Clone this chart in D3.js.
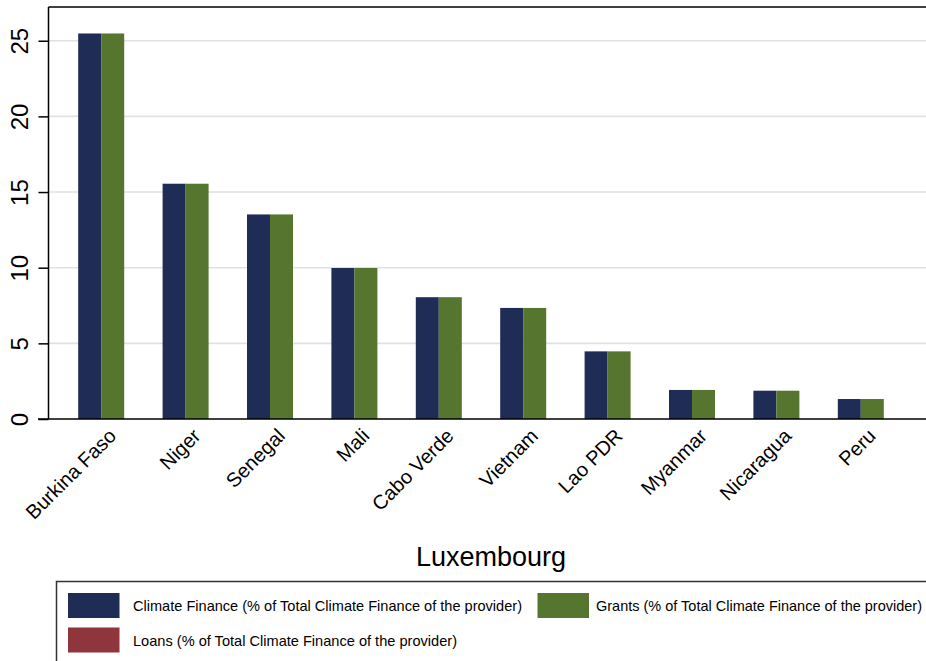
<!DOCTYPE html>
<html>
<head>
<meta charset="utf-8">
<script src="https://cdn.jsdelivr.net/npm/d3@7"></script>
<style>
  html, body { margin: 0; padding: 0; background: #fff; }
  svg { display: block; font-family: "Liberation Sans", Arial, sans-serif; }
</style>
</head>
<body>
<svg id="chart" width="926" height="661"></svg>
<script>
const categories = ["Burkina Faso", "Niger", "Senegal", "Mali", "Cabo Verde", "Vietnam", "Lao PDR", "Myanmar", "Nicaragua", "Peru"];
const climateFinance = [25.48, 15.55, 13.52, 9.98, 8.05, 7.34, 4.47, 1.92, 1.87, 1.32];
const grants = [25.48, 15.55, 13.52, 9.98, 8.05, 7.34, 4.47, 1.92, 1.87, 1.32];
const loans = [0, 0, 0, 0, 0, 0, 0, 0, 0, 0];
const yTicks = [0, 5, 10, 15, 20, 25];
const seriesNames = [
  "Climate Finance (% of Total Climate Finance of the provider)",
  "Grants (% of Total Climate Finance of the provider)",
  "Loans (% of Total Climate Finance of the provider)"
];
const seriesColors = ["#1f2c55", "#56752f", "#8f353c"];
const chartTitle = "Luxembourg";

const svg = d3.select("#chart");
const pLeft = 48.5, pRight = 926, pTop = 7, pBottom = 419;

const x = d3.scaleBand().domain(categories).range([49, 913]).paddingInner(0.455).paddingOuter(0.346);
const xSub = d3.scaleBand().domain(["cf", "gr"]).range([0, x.bandwidth()]);
const y = d3.scaleLinear().domain([0, 27.23]).range([pBottom, pTop]);

// gridlines
svg.append("g").selectAll("line").data(yTicks.filter(d => d > 0)).join("line")
  .attr("x1", pLeft).attr("x2", pRight)
  .attr("y1", d => y(d)).attr("y2", d => y(d))
  .attr("stroke", "#e1e1e1").attr("stroke-width", 1.6);

// bars
const rows = categories.map((c, i) => ({c, cf: climateFinance[i], gr: grants[i], lo: loans[i]}));
const g = svg.append("g");
g.selectAll("rect.cf").data(rows).join("rect").attr("class", "cf")
  .attr("x", d => x(d.c) + xSub("cf")).attr("width", xSub.bandwidth())
  .attr("y", d => y(d.cf)).attr("height", d => y(0) - y(d.cf))
  .attr("fill", seriesColors[0]);
g.selectAll("rect.gr").data(rows).join("rect").attr("class", "gr")
  .attr("x", d => x(d.c) + xSub("gr")).attr("width", xSub.bandwidth())
  .attr("y", d => y(d.gr)).attr("height", d => y(0) - y(d.gr))
  .attr("fill", seriesColors[1]);
g.selectAll("rect.lo").data(rows).join("rect").attr("class", "lo")
  .attr("x", d => x(d.c) + xSub("gr")).attr("width", xSub.bandwidth())
  .attr("y", d => y(d.lo)).attr("height", d => y(0) - y(d.lo))
  .attr("fill", seriesColors[2]);

// frame: top line and left axis
svg.append("line").attr("x1", pLeft).attr("x2", pRight).attr("y1", pTop).attr("y2", pTop)
  .attr("stroke", "#000").attr("stroke-width", 1.5);
svg.append("line").attr("x1", pLeft).attr("x2", pLeft).attr("y1", pTop).attr("y2", pBottom)
  .attr("stroke", "#000").attr("stroke-width", 1.5);
svg.append("line").attr("x1", 38).attr("x2", pRight).attr("y1", pBottom).attr("y2", pBottom)
  .attr("stroke", "#000").attr("stroke-width", 1.5);

// y axis ticks and labels
const yAxis = d3.axisLeft(y).tickValues(yTicks).tickSize(10).tickFormat(d3.format("d"));
const ya = svg.append("g").attr("transform", `translate(${pLeft},0)`).call(yAxis);
ya.select(".domain").remove();
ya.selectAll(".tick line").attr("stroke", "#000").attr("stroke-width", 1.5);
ya.selectAll(".tick text")
  .attr("x", null).attr("dy", null)
  .attr("transform", "translate(-21,0) rotate(-90)")
  .attr("text-anchor", "middle")
  .attr("font-size", 24)
  .attr("font-family", "Liberation Sans, Arial, sans-serif")
  .attr("fill", "#000");

// x labels
const xAxis = d3.axisBottom(x).tickSize(0);
const xa = svg.append("g").attr("transform", `translate(0,${pBottom})`).call(xAxis);
xa.select(".domain").remove();
xa.selectAll(".tick text")
  .attr("x", null).attr("y", null).attr("dy", null)
  .attr("transform", "translate(6,8) rotate(-45)")
  .attr("text-anchor", "end")
  .attr("dominant-baseline", "hanging")
  .attr("font-size", 20)
  .attr("font-family", "Liberation Sans, Arial, sans-serif")
  .attr("fill", "#000");

// title
svg.append("text").attr("x", 491).attr("y", 566).attr("text-anchor", "middle")
  .attr("font-size", 27).attr("fill", "#000").text(chartTitle);

// legend
svg.append("rect").attr("x", 56.5).attr("y", 581.5).attr("width", 900).attr("height", 120)
  .attr("fill", "#fff").attr("stroke", "#333").attr("stroke-width", 1.5);
const legendItems = [
  {name: seriesNames[0], color: seriesColors[0], sx: 68, sy: 593, tx: 133, tw: 389},
  {name: seriesNames[1], color: seriesColors[1], sx: 537.5, sy: 593, tx: 596, tw: 326},
  {name: seriesNames[2], color: seriesColors[2], sx: 68, sy: 627.5, tx: 133, tw: 324}
];
const lg = svg.append("g").selectAll("g").data(legendItems).join("g");
lg.append("rect").attr("x", d => d.sx).attr("y", d => d.sy).attr("width", 51.5).attr("height", 25)
  .attr("fill", d => d.color);
lg.append("text").attr("x", d => d.tx).attr("y", d => d.sy + 18)
  .attr("font-size", 15).attr("fill", "#000")
  .attr("textLength", d => d.tw).attr("lengthAdjust", "spacingAndGlyphs")
  .text(d => d.name);
</script>
</body>
</html>
